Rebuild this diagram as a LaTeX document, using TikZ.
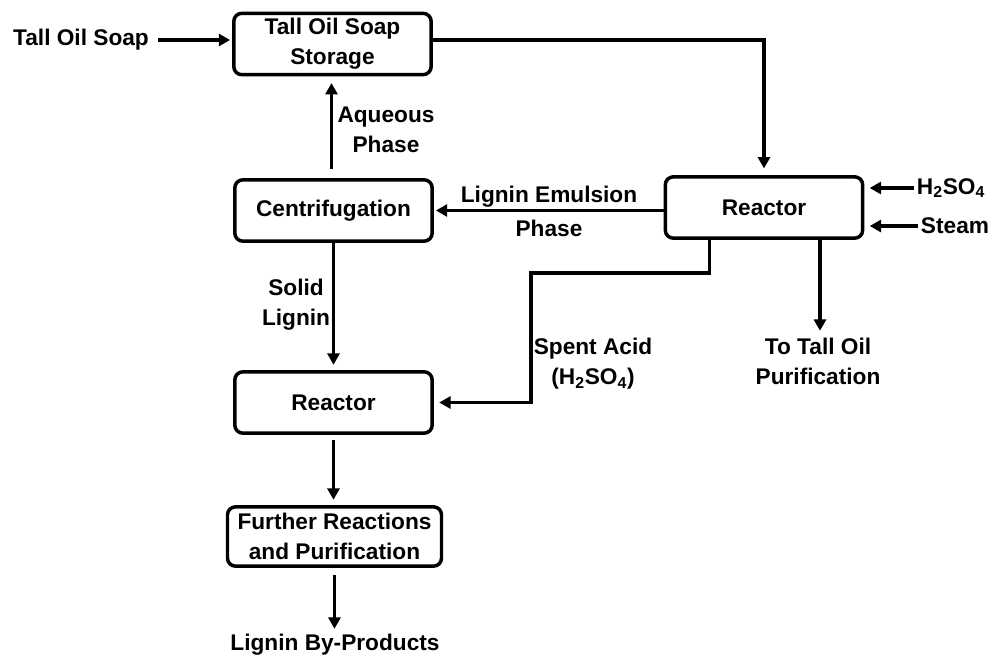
\documentclass[tikz,border=0pt]{standalone}
\usepackage{fontspec}
\setmainfont{Liberation Sans}
\usetikzlibrary{arrows.meta,calc}
\begin{document}
\begin{tikzpicture}[x=0.75pt,y=-0.75pt,
  font=\fontsize{17}{22.5}\selectfont\bfseries,
  box/.style={draw,line width=2.6pt,rounded corners=6pt,minimum width=148pt,minimum height=46pt,align=center,inner sep=0pt},
  lbl/.style={align=center,inner sep=1pt},
  arr/.style={line width=2.6pt,-{Triangle[length=8.5pt,width=9pt]}},
  ln/.style={line width=2.6pt}]
\useasboundingbox (0,0) rectangle (990,660);

% boxes
\node[box] (storage) at (332.5,44) {Tall Oil Soap\\Storage};
\node[box] (centrif) at (333.5,210.5) {Centrifugation};
\node[box] (reactorR) at (764,207.5) {Reactor};
\node[box] (reactorB) at (333.5,402.5) {Reactor};
\node[box,minimum width=160.5pt,minimum height=44.5pt] (further) at (334.5,536.5) {Further Reactions\\and Purification};

% free texts
\node[lbl] (tos) at (81,40) {Tall Oil Soap};
\node[lbl,inner sep=0pt] (h2so4) at (951,188) {H\textsubscript{2}SO\textsubscript{4}};
\node[lbl,inner sep=0pt] (steam) at (955,226) {Steam};
\node[lbl] (totall) at (818,361) {To Tall Oil\\Purification};
\node[lbl] (byprod) at (335,645) {Lignin By-Products};

% connector labels
\node[lbl] (laq) at (386,130) {Aqueous\\Phase};
\node[lbl] (lle) at (549,197) {Lignin Emulsion};
\node[lbl] (lph) at (549,228) {Phase};
\node[lbl] (lsl) at (296,305) {Solid\\Lignin};
\node[lbl] (lsa) at (593,364) {Spent Acid\\(H\textsubscript{2}SO\textsubscript{4})};

% connectors
\draw[arr,shorten <=6pt,shorten >=1.5pt] (tos.east) -- (tos.east -| storage.west);
\draw[arr,shorten >=5pt] (tos.east -| storage.east) -| (reactorR.north);
\draw[arr,shorten <=7pt,shorten >=5pt] ([xshift=-1.5pt]centrif.north) -- ([xshift=-1.5pt]centrif.north |- storage.south);
\draw[arr,shorten >=1.5pt] (centrif.east -| reactorR.west) -- (centrif.east);
\draw[arr,shorten >=4pt] (centrif.south) -- (reactorB.north);
\coordinate (s1) at (531,273);
\draw[arr,shorten >=4pt] ([xshift=-41pt]reactorR.south) |- (s1) |- (reactorB.east);
\draw[arr,shorten >=4pt] ([xshift=42pt]reactorR.south) -- ([xshift=42pt]reactorR.south |- totall.north);
\draw[arr,shorten <=4pt,shorten >=4pt] (reactorB.south) -- (reactorB.south |- further.north);
\draw[arr,shorten <=5pt,shorten >=3pt] (further.south) -- (further.south |- byprod.north);
\draw[arr,shorten <=2pt,shorten >=4pt] (h2so4.west) -- (h2so4.west -| reactorR.east);
\draw[arr,shorten <=2pt,shorten >=4pt] (steam.west) -- (steam.west -| reactorR.east);
\end{tikzpicture}
\end{document}
